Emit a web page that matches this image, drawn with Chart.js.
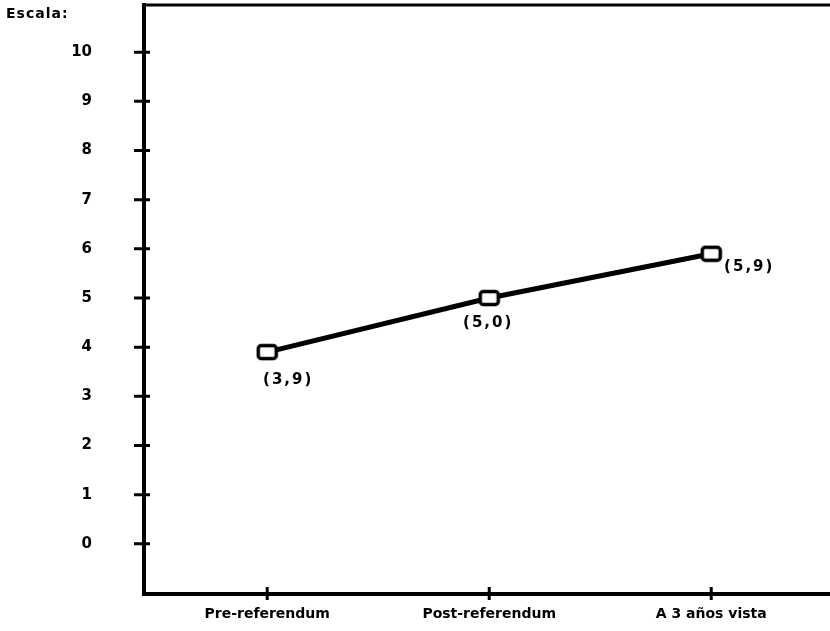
<!DOCTYPE html>
<html>
<head>
<meta charset="utf-8">
<script src="https://cdn.jsdelivr.net/npm/chart.js@4"></script>
<style>
  body { margin: 0; background: #fff; }
  #wrap { width: 830px; height: 631px; }
</style>
</head>
<body>
<div id="wrap"><canvas id="escalaChart" width="830" height="631"></canvas></div>
<script>
// data
const categories = ['Pre-referendum', 'Post-referendum', 'A 3 años vista'];
const values = [3.9, 5.0, 5.9];
const pointLabels = ['(3,9)', '(5,0)', '(5,9)'];
const yTicks = [0, 1, 2, 3, 4, 5, 6, 7, 8, 9, 10];
const yTitle = 'Escala:';

const FONT = '"DejaVu Sans", sans-serif';

// open rounded square used as point marker
function makeMarker() {
  const c = document.createElement('canvas');
  c.width = 23; c.height = 18;
  const g = c.getContext('2d');
  g.lineWidth = 3.5;
  g.strokeStyle = '#000';
  g.fillStyle = '#fff';
  g.beginPath();
  g.roundRect(2.5, 2.5, 18, 13, 3);
  g.fill();
  g.stroke();
  return c;
}

// ticks that cross the axes, top frame line, point labels and "Escala:"
const axisMarks = {
  id: 'axisMarks',
  afterDraw(chart) {
    const {ctx, chartArea, scales} = chart;
    ctx.save();
    ctx.strokeStyle = '#000';
    ctx.lineWidth = 3;
    ctx.beginPath();
    ctx.moveTo(chartArea.left - 2, chartArea.top);
    ctx.lineTo(chartArea.right, chartArea.top);
    ctx.stroke();
    ctx.beginPath();
    yTicks.forEach(v => {
      const y = scales.y.getPixelForValue(v);
      ctx.moveTo(chartArea.left - 10, y);
      ctx.lineTo(chartArea.left + 6, y);
    });
    categories.forEach((c, i) => {
      const x = scales.x.getPixelForValue(i);
      ctx.moveTo(x, chartArea.bottom - 7);
      ctx.lineTo(x, chartArea.bottom + 6);
    });
    ctx.stroke();

    ctx.fillStyle = '#000';
    ctx.font = 'bold 15px ' + FONT;
    ctx.letterSpacing = '2px';
    ctx.textAlign = 'center';
    ctx.textBaseline = 'middle';
    const offs = [[21, 28], [-1, 25], [38, 13]];
    const meta = chart.getDatasetMeta(0);
    meta.data.forEach((pt, i) => {
      ctx.fillText(pointLabels[i], pt.x + offs[i][0], pt.y + offs[i][1]);
    });

    ctx.textAlign = 'left';
    ctx.textBaseline = 'top';
    ctx.letterSpacing = '1px';
    ctx.font = 'bold 14px ' + FONT;
    ctx.fillText(yTitle, 6, 7);
    ctx.restore();
  }
};

const escalaChart = new Chart(document.getElementById('escalaChart'), {
  type: 'line',
  data: {
    datasets: [{
      data: values.map((v, i) => ({x: i, y: v})),
      borderColor: '#000',
      borderWidth: 5,
      pointStyle: makeMarker(),
      tension: 0
    }]
  },
  options: {
    responsive: false,
    animation: false,
    layout: {autoPadding: false, padding: {top: 5, right: 0, left: 0, bottom: 0}},
    plugins: {
      legend: {display: false},
      tooltip: {enabled: false}
    },
    scales: {
      x: {
        type: 'linear',
        min: -0.555,
        max: 2.535,
        grid: {display: false, drawTicks: false},
        border: {display: true, color: '#000', width: 4},
        afterBuildTicks: s => { s.ticks = categories.map((c, i) => ({value: i})); },
        afterFit: s => { s.height = 37; s.paddingLeft = 0; s.paddingRight = 0; },
        ticks: {
          color: '#000',
          padding: 12,
          maxRotation: 0,
          autoSkip: false,
          font: {family: FONT, size: 14, weight: 'bold'},
          callback: v => categories[v]
        }
      },
      y: {
        min: -1.02,
        max: 10.96,
        grid: {display: false, drawTicks: false},
        border: {display: true, color: '#000', width: 4},
        afterBuildTicks: s => { s.ticks = yTicks.map(v => ({value: v})); },
        afterFit: s => { s.width = 144; s.paddingTop = 0; s.paddingBottom = 0; },
        ticks: {
          color: '#000',
          padding: 52,
          font: {family: FONT, size: 15, weight: 'bold'}
        }
      }
    }
  },
  plugins: [axisMarks]
});
</script>
</body>
</html>
